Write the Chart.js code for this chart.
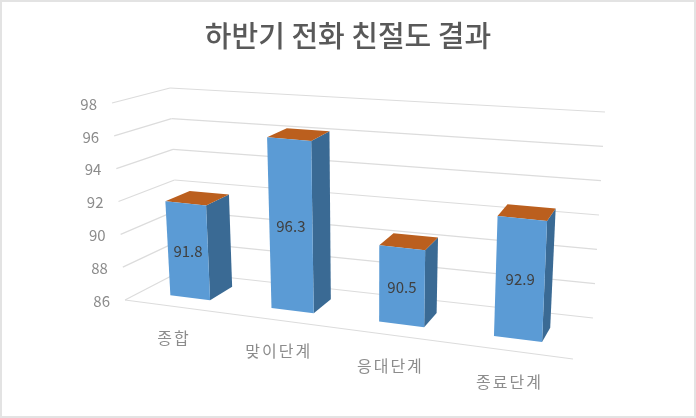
<!DOCTYPE html>
<html lang="ko">
<head>
<meta charset="utf-8">
<title>하반기 전화 친절도 결과</title>
<script src="https://cdn.jsdelivr.net/npm/chart.js@4"></script>
<style>
  html, body { margin: 0; padding: 0; background: #fff; }
  #wrap { width: 696px; height: 418px; position: relative; overflow: hidden; }
  #wrap::after { content: ""; position: absolute; inset: 0; border: 2px solid #e3e3e3; pointer-events: none; }
  #chart { filter: blur(0.7px); }
</style>
</head>
<body>
<div id="wrap"><canvas id="chart"></canvas></div>
<script>
const categories = ["종합", "맞이단계", "응대단계", "종료단계"];
const scores = [91.8, 96.3, 90.5, 92.9];
const yMin = 86;
const yMax = 98;
const yStep = 2;
const chartTitle = "하반기 전화 친절도 결과";

const FONT = '"Noto Sans CJK KR", "Noto Sans", sans-serif';

// corners of the 3D box on screen, [x, y]
const box = {
  floorFrontL: [125, 300], floorFrontR: [573, 359],
  floorBackL: [179, 272], floorBackR: [593, 318],
  topFrontL: [112, 103], topFrontR: [583, 144],
  topBackL: [170, 88], topBackR: [605, 112]
};

function mix(a, b, t) {
  return [a[0] + (b[0] - a[0]) * t, a[1] + (b[1] - a[1]) * t];
}

// u: along categories, v: depth (0 front, 1 back), w: height, all 0..1
function project(u, v, w) {
  const p = u * 0.88 / (1 - 0.12 * u); // categories get wider towards the viewer
  const bottom = mix(mix(box.floorFrontL, box.floorFrontR, p), mix(box.floorBackL, box.floorBackR, p), v);
  const top = mix(mix(box.topFrontL, box.topFrontR, p), mix(box.topBackL, box.topBackR, p), v);
  return mix(bottom, top, w);
}

function poly(ctx, pts, fill) {
  ctx.beginPath();
  pts.forEach((p, i) => i ? ctx.lineTo(p[0], p[1]) : ctx.moveTo(p[0], p[1]));
  ctx.closePath();
  ctx.fillStyle = fill;
  ctx.fill();
}

function line(ctx, a, b) {
  ctx.beginPath();
  ctx.moveTo(a[0], a[1]);
  ctx.lineTo(b[0], b[1]);
  ctx.stroke();
}

const bars3d = {
  id: "bars3d",
  beforeDatasetsDraw(chart) {
    const ctx = chart.ctx;
    const area = chart.chartArea;
    const yScale = chart.scales.y;
    const toU = x => (x - area.left) / area.width;
    const toW = y => (area.bottom - y) / area.height;

    ctx.save();

    // walls and floor
    ctx.strokeStyle = "#dcdcdc";
    ctx.lineWidth = 1.2;
    yScale.ticks.forEach(t => {
      const w = toW(yScale.getPixelForValue(t.value));
      line(ctx, project(0, 0, w), project(0, 1, w));
      line(ctx, project(0, 1, w), project(1, 1, w));
    });
    line(ctx, project(0, 0, 0), project(1, 0, 0));

    // axis labels
    ctx.fillStyle = "#8c8c8c";
    ctx.font = "15px " + FONT;
    ctx.textAlign = "right";
    ctx.textBaseline = "middle";
    yScale.ticks.forEach(t => {
      const p = project(0, 0, toW(yScale.getPixelForValue(t.value)));
      ctx.fillText(t.value, p[0] - 15, p[1] + 1);
    });
    ctx.textAlign = "center";
    ctx.font = "16px " + FONT;
    ctx.letterSpacing = "2px";
    categories.forEach((c, i) => {
      const p = project(toU(chart.scales.x.getPixelForTick(i)), 0, 0);
      ctx.fillText(c, p[0] - 1, p[1] + 31);
    });
    ctx.letterSpacing = "0px";

    // bars
    chart.getDatasetMeta(0).data.forEach((el, i) => {
      const u0 = toU(el.x - el.width / 2);
      const u1 = toU(el.x + el.width / 2);
      const w = toW(el.y);
      const vf = 0.3;
      const vb = 0.77 - 0.13 * toU(el.x);
      poly(ctx, [project(u1, vf, 0), project(u1, vb, 0), project(u1, vb, w), project(u1, vf, w)], "#3a6a94");
      poly(ctx, [project(u0, vf, w), project(u1, vf, w), project(u1, vb, w), project(u0, vb, w)], "#bb5f1e");
      const a = project(u0, vf, 0), b = project(u1, vf, 0), c = project(u1, vf, w), d = project(u0, vf, w);
      poly(ctx, [a, b, c, d], "#5b9bd5");

      ctx.fillStyle = "#404040";
      ctx.font = "15px " + FONT;
      ctx.textAlign = "center";
      ctx.textBaseline = "middle";
      ctx.fillText(scores[i], (a[0] + b[0] + c[0] + d[0]) / 4, (a[1] + b[1] + c[1] + d[1]) / 4 + 1);
    });

    ctx.restore();
    return false; // flat bars are replaced by the ones above
  }
};

new Chart(document.getElementById("chart"), {
  type: "bar",
  data: {
    labels: categories,
    datasets: [{
      label: chartTitle,
      data: scores,
      backgroundColor: "#5b9bd5",
      categoryPercentage: 1,
      barPercentage: 0.4
    }]
  },
  options: {
    responsive: true,
    maintainAspectRatio: false,
    animation: false,
    plugins: {
      legend: { display: false },
      tooltip: { enabled: false },
      title: {
        display: true,
        text: chartTitle,
        color: "#595959",
        font: { family: FONT, size: 29, weight: "500" },
        padding: { top: 19, bottom: 10 }
      }
    },
    scales: {
      x: { display: false },
      y: { display: false, min: yMin, max: yMax, ticks: { stepSize: yStep } }
    }
  },
  plugins: [bars3d]
});
</script>
</body>
</html>
